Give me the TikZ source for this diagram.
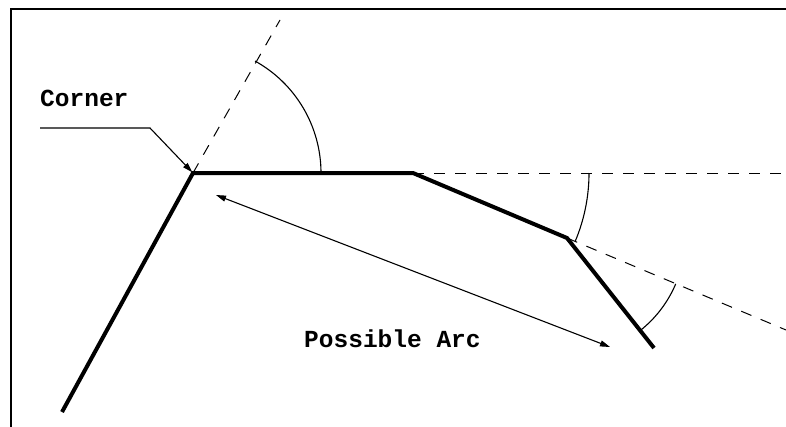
\documentclass[tikz,border=0pt]{standalone}
\usepackage{fontspec}
\setmonofont{Liberation Mono}
\usetikzlibrary{arrows.meta}
\begin{document}
\begin{tikzpicture}[x=1pt,y=-1pt,
  frame/.style={line width=2pt},
  seg/.style={line width=4pt, line join=miter},
  guide/.style={line width=1pt, dash pattern=on 11pt off 10pt},
  thin/.style={line width=1.1pt},
  tip/.style={-{Triangle[length=10pt,width=6pt]}},
  lbl/.style={font=\ttfamily\bfseries\fontsize{24.5}{24.5}\selectfont, inner sep=0pt, anchor=base west}]
\useasboundingbox (0,0) rectangle (786,426);
\draw[frame] (11,427) -- (11,9) -- (787,9);
% polyline points
\coordinate (A) at (62,412);
\coordinate (C) at (193,173);
\coordinate (B) at (413,173);
\coordinate (D) at (567,238);
\coordinate (E) at (654,348);
% guides
\coordinate (g1) at (280,20);
\coordinate (g2) at (786,173);
\coordinate (g3) at (786,330);
\draw[guide] (C) -- (g1);
\draw[guide] (B) -- (g2);
\draw[guide] (D) -- (g3);
% angle arcs
\draw[thin] (C) ++(0:128) arc[start angle=0, end angle=-61, radius=128];
\draw[thin] (B) ++(0:176) arc[start angle=0, end angle=22.9, radius=176];
\draw[thin] (D) ++(22.9:118) arc[start angle=22.9, end angle=51.7, radius=118];
% main thick polyline
\draw[seg] (A) -- (C) -- (B) -- (D) -- (E);
% labels
\node[lbl] (corner) at (40,106) {Corner};
\node[lbl] (arc) at (304,347) {Possible Arc};
% corner leader
\coordinate (l1) at (40,128);
\coordinate (l2) at (150,128);
\draw[thin, tip, shorten >=1pt] (l1) -- (l2) -- (C);
% possible arc arrow
\coordinate (p1) at (216,195);
\coordinate (p2) at (610,347);
\draw[thin, {Triangle[length=10pt,width=6pt]}-{Triangle[length=10pt,width=6pt]}] (p1) -- (p2);
\end{tikzpicture}
\end{document}
